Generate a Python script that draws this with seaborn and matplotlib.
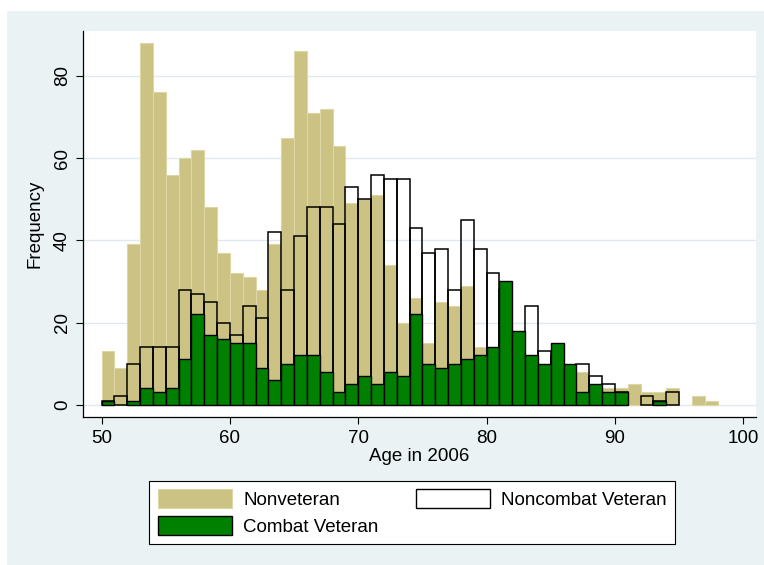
import numpy as np
import pandas as pd
import matplotlib
matplotlib.use("Agg")
import matplotlib.pyplot as plt
from matplotlib.patches import Patch, Rectangle
import seaborn as sns

# ---- data (counts per 1-year age bin, ages 50..97) ----
ages = list(range(50, 98))
nonveteran = [13, 9, 39, 88, 76, 56, 60, 62, 48, 37,
              32, 31, 28, 39, 65, 86, 71, 72, 63, 49,
              50, 51, 34, 20, 26, 15, 25, 24, 29, 14,
              12, 10, 9, 8, 7, 6, 6, 8, 4, 4,
              4, 5, 3, 3, 4, 0, 2, 1]
noncombat = [1, 2, 10, 14, 14, 14, 28, 27, 25, 20,
             17, 24, 21, 42, 28, 41, 48, 48, 44, 53,
             50, 56, 55, 55, 43, 37, 38, 28, 45, 38,
             32, 28, 17, 24, 13, 12, 9, 10, 7, 5,
             3, 0, 2, 1, 3, 0, 0, 0]
combat = [1, 0, 1, 4, 3, 4, 11, 22, 17, 16,
          15, 15, 9, 6, 10, 12, 12, 8, 3, 5,
          7, 5, 8, 7, 22, 10, 9, 10, 11, 12,
          14, 30, 18, 12, 10, 15, 10, 3, 5, 3,
          3, 0, 0, 1, 0, 0, 0, 0]
bin_edges = list(range(50, 99))
series_labels = ["Nonveteran", "Combat Veteran", "Noncombat Veteran"]
xticks = [50, 60, 70, 80, 90, 100]
yticks = [0, 20, 40, 60, 80]
xlabel = "Age in 2006"
ylabel = "Frequency"

KHAKI = "#CBC283"
KHAKI_EDGE = "#DDD7A6"
GREEN = "#008000"
BG = "#EAF2F3"
FS = 13.5

sns.set_theme(style="white")
plt.rcParams["font.family"] = ["Liberation Sans", "DejaVu Sans"]

W, H = 764, 565
fig = plt.figure(figsize=(W / 100, H / 100), dpi=100, facecolor="white")
fig.patches.append(Rectangle((7 / W, 0), (W - 7) / W, (H - 11) / H,
                             transform=fig.transFigure, facecolor=BG,
                             edgecolor="none", zorder=-10))

x0, x1, y0, y1 = 83.3, 756, 31, 417.3
ax = fig.add_axes([x0 / W, 1 - y1 / H, (x1 - x0) / W, (y1 - y0) / H])
ax.set_zorder(1)
ax.set_facecolor("white")

df = pd.DataFrame({"age": ages, "nonvet": nonveteran,
                   "noncombat": noncombat, "combat": combat})


def hist(col, **kw):
    before = len(ax.patches)
    sns.histplot(data=df, x="age", weights=col, bins=bin_edges, ax=ax,
                 stat="count", **kw)
    for p in ax.patches[before:]:
        if p.get_height() == 0:
            p.set_visible(False)


hist("nonvet", color=KHAKI, alpha=1, edgecolor=KHAKI_EDGE, linewidth=0.8)
hist("noncombat", fill=False, color="black", linewidth=1.1)
hist("combat", color=GREEN, alpha=1, edgecolor="black", linewidth=1.0)

ax.set_xlim(48.57, 100.99)
ax.set_ylim(-3.07, 90.95)
ax.set_xticks(xticks)
ax.set_xticklabels([str(v) for v in xticks])
ax.set_yticks(yticks)
ax.set_yticklabels([str(v) for v in yticks], rotation=90, va="center")

for s in ["top", "right"]:
    ax.spines[s].set_visible(False)
for s in ["left", "bottom"]:
    ax.spines[s].set_color("black")
    ax.spines[s].set_linewidth(0.9)

ax.tick_params(axis="both", which="major", bottom=True, left=True,
               direction="out", length=5, width=0.8, color="black",
               labelsize=FS, pad=4, labelcolor="black")
ax.yaxis.grid(True, color="#E0EAEE", linewidth=1)
ax.xaxis.grid(False)
ax.set_axisbelow(True)

ax.set_xlabel(xlabel, fontsize=FS, color="black")
ax.set_ylabel(ylabel, fontsize=FS, color="black")
ax.xaxis.set_label_coords(0.5, -0.079)
ax.yaxis.set_label_coords(-0.0595, 0.5)

handles = [
    Patch(facecolor=KHAKI, edgecolor=KHAKI_EDGE, linewidth=0.8, label=series_labels[0]),
    Patch(facecolor=GREEN, edgecolor="black", linewidth=1.0, label=series_labels[1]),
    Patch(facecolor="white", edgecolor="black", linewidth=1.0, label=series_labels[2]),
]
leg = fig.legend(handles=handles, ncol=2, loc="upper left",
                 bbox_to_anchor=(149.3 / W, 1 - 480.7 / H),
                 bbox_transform=fig.transFigure, frameon=True, fancybox=False,
                 edgecolor="black", framealpha=1, facecolor="white",
                 borderpad=0.45, handlelength=3.95, handleheight=1.15,
                 handletextpad=0.6, columnspacing=2.0, labelspacing=0.4,
                 fontsize=FS, borderaxespad=0)
leg.get_frame().set_linewidth(0.8)
for t in leg.get_texts():
    t.set_color("black")

fig.savefig("out.png", dpi=100, facecolor="white")
